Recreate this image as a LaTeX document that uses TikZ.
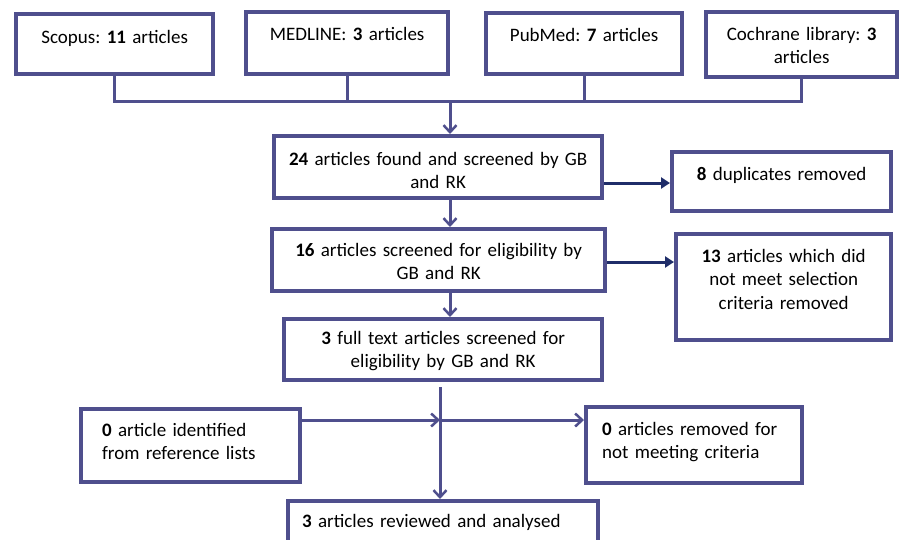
\documentclass[tikz,border=0pt]{standalone}
\usepackage{fontspec}
\setmainfont{Carlito}
\frenchspacing
\usetikzlibrary{arrows.meta}
\definecolor{slate}{RGB}{79,79,141}
\definecolor{navy}{RGB}{31,45,105}
\tikzset{
  bx/.style={draw=slate, line width=4.3pt, fill=white, inner ysep=0pt, inner xsep=0pt,
    anchor=north west, align=center, font=\fontsize{19pt}{23.5pt}\selectfont},
  lbx/.style={bx, align=left},
  conn/.style={draw=slate, line width=3pt},
  sarrow/.style={conn, -{Straight Barb[length=7pt,width=13pt,line width=2.5pt]}},
  narrow/.style={draw=navy, line width=3pt, -{Triangle[length=9pt,width=11pt]}}
}
\begin{document}
\begin{tikzpicture}[x=1pt,y=-1pt]
\useasboundingbox (0,0) rectangle (899,539);
% source boxes
\node[bx, text width=197pt, text height=29pt, text depth=31pt] (sc) at (14,12) {Scopus: \textbf{11} articles};
\node[bx, text width=202pt, text height=28.5pt, text depth=34pt] (me) at (244,9.5) {MEDLINE: \textbf{3} articles};
\node[bx, text width=196pt, text height=28pt, text depth=33pt] (pm) at (484,11) {PubMed: \textbf{7} articles};
\node[bx, text width=191pt, text height=28pt, text depth=37pt] (co) at (704,10) {Cochrane library: \textbf{3}\\ articles};
% main flow
\node[bx, text width=328pt, text height=29pt, text depth=33pt] (b24) at (272,134) {\textbf{24} articles found and screened by GB\\ and RK};
\node[bx, text width=219pt, text height=28pt, text depth=31pt] (dup) at (670,150) {\textbf{8} duplicates removed};
\node[bx, text width=333pt, text height=27pt, text depth=35pt] (b16) at (270,227) {\textbf{16} articles screened for eligibility by\\ GB and RK};
\node[bx, text width=215pt, text height=28pt, text depth=78pt] (b13) at (674,232) {\textbf{13} articles which did\\ not meet selection\\ criteria removed};
\node[bx, text width=318pt, text height=25pt, text depth=36pt] (full) at (282,317) {\textbf{3} full text articles screened for\\ eligibility by GB and RK};
\node[lbx, inner xsep=21pt, text width=177pt, text height=27pt, text depth=46pt] (ref) at (79,407) {\textbf{0} article identified\\ from reference lists};
\node[lbx, inner xsep=16pt, text width=184pt, text height=28pt, text depth=48pt] (rem) at (584,405) {\textbf{0} articles removed for\\ not meeting criteria};
\node[lbx, inner xsep=14pt, text width=282pt, text height=26pt, text depth=45pt] (fin) at (286,499) {\textbf{3} articles reviewed and analysed};
% top connectors
\coordinate (j) at (450,101);
\draw[conn] (sc.south) -- (sc.south |- j) -- (co.south |- j) -- (co.south);
\draw[conn] (me.south) -- (me.south |- j);
\draw[conn] (pm.south) -- (pm.south |- j);
\draw[sarrow] (j) -- (j |- b24.north);
\draw[sarrow] (b24.south -| j) -- (b16.north -| j);
\draw[sarrow] (b16.south -| j) -- (full.north -| j);
% side arrows
\draw[narrow] (b24.east |- 0,183) -- (dup.west |- 0,183);
\draw[narrow] (b16.east |- 0,262) -- (b13.west |- 0,262);
% lower cross
\coordinate (m) at (440,420);
\coordinate (t) at (440,387);
\draw[sarrow] (t) -- (m) -- (fin.north -| m);
\draw[sarrow] (ref.east |- m) -- (m);
\draw[sarrow] (m) -- (rem.west |- m);
\end{tikzpicture}
\end{document}
